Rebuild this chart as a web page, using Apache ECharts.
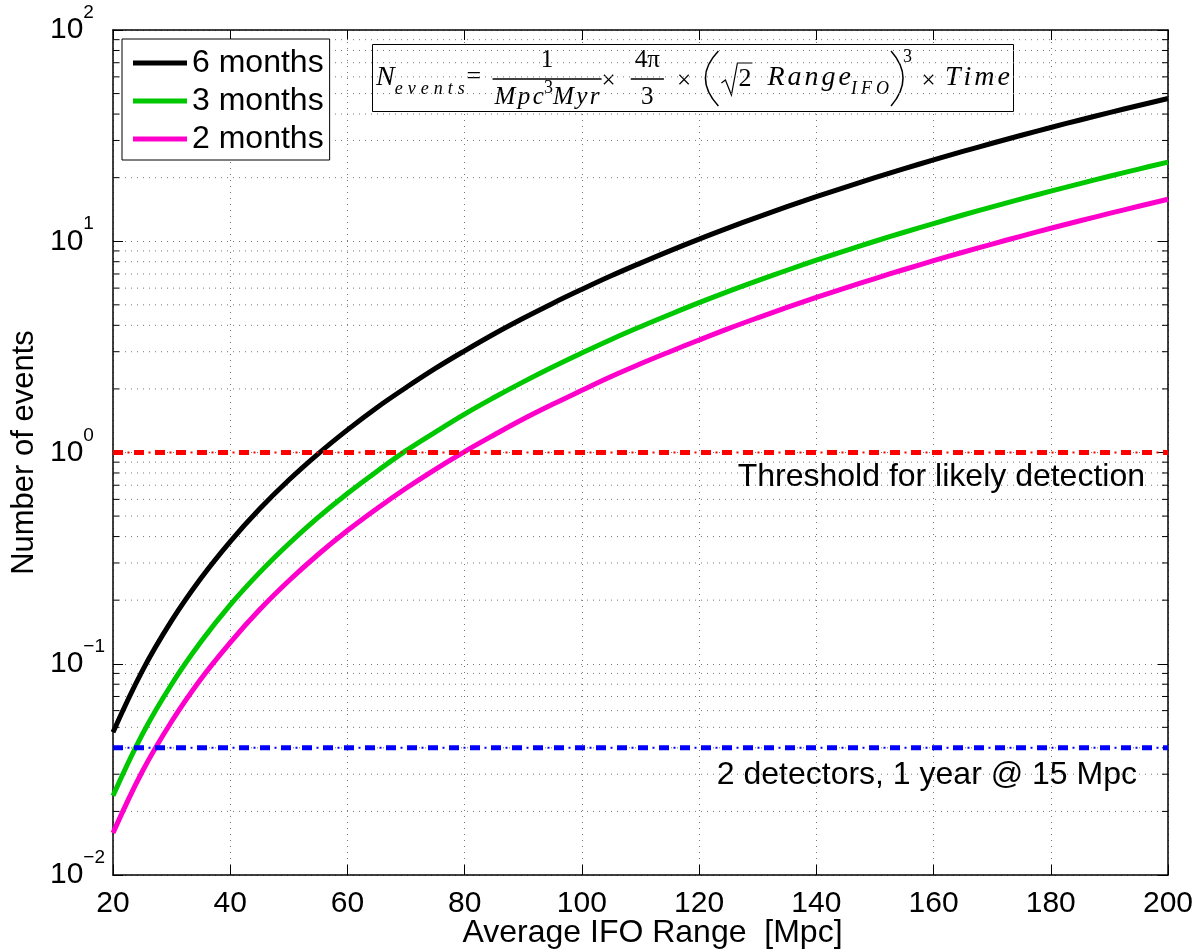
<!DOCTYPE html>
<html>
<head>
<meta charset="utf-8">
<script src="https://cdn.jsdelivr.net/npm/echarts@6/dist/echarts.min.js"></script>
<style>
  html, body { margin: 0; padding: 0; background: #fff; }
  #chart { width: 1204px; height: 951px; }
</style>
</head>
<body>
<div id="chart"></div>
<script>
// Average interferometer range (Mpc)
const rangeMpc = [20, 25, 30, 35, 40, 45, 50, 55, 60, 65, 70, 75, 80, 85, 90, 95, 100,
  105, 110, 115, 120, 125, 130, 135, 140, 145, 150, 155, 160, 165, 170, 175, 180, 185, 190, 195, 200];

// Expected number of events for each observation time
const events6Months = [0.0474, 0.0926, 0.160, 0.254, 0.379, 0.540, 0.741, 0.986, 1.28, 1.63, 2.03,
  2.50, 3.03, 3.64, 4.32, 5.08, 5.92, 6.86, 7.88, 9.01, 10.24, 11.57, 13.02, 14.58, 16.26,
  18.06, 19.99, 22.06, 24.26, 26.61, 29.10, 31.75, 34.55, 37.51, 40.63, 43.92, 47.39];
const events3Months = [0.0237, 0.0463, 0.0800, 0.127, 0.190, 0.270, 0.370, 0.493, 0.640, 0.813, 1.02,
  1.25, 1.52, 1.82, 2.16, 2.54, 2.96, 3.43, 3.94, 4.50, 5.12, 5.79, 6.51, 7.29, 8.13,
  9.03, 10.00, 11.03, 12.13, 13.31, 14.55, 15.87, 17.27, 18.75, 20.32, 21.96, 23.70];
const events2Months = [0.0158, 0.0309, 0.0533, 0.0847, 0.126, 0.180, 0.247, 0.329, 0.427, 0.542, 0.677,
  0.833, 1.01, 1.21, 1.44, 1.69, 1.97, 2.29, 2.63, 3.00, 3.41, 3.86, 4.34, 4.86, 5.42,
  6.02, 6.66, 7.35, 8.09, 8.87, 9.70, 10.58, 11.52, 12.50, 13.54, 14.64, 15.80];

const seriesNames = ['6 months', '3 months', '2 months'];
const seriesColors = ['#000000', '#00c800', '#ff00cc'];

// Horizontal reference levels
const thresholdLevels = [1, 0.04];
const thresholdColors = ['#ff0000', '#0000ff'];
const thresholdTexts = ['Threshold for likely detection', '2 detectors, 1 year @ 15 Mpc'];

// Axis ranges and ticks
const xRange = [20, 200];
const xTickStep = 20;
const yRange = [0.01, 100];
const minorGridValues = [
  0.02, 0.03, 0.04, 0.05, 0.06, 0.07, 0.08, 0.09,
  0.2, 0.3, 0.4, 0.5, 0.6, 0.7, 0.8, 0.9,
  2, 3, 4, 5, 6, 7, 8, 9,
  20, 30, 40, 50, 60, 70, 80, 90
];

const SANS = '"Liberation Sans", Arial, Helvetica, sans-serif';
const SERIF = '"Liberation Serif", "Times New Roman", serif';

const chart = echarts.init(document.getElementById('chart'), null, { renderer: 'canvas' });

function pairs(values) {
  return rangeMpc.map((x, i) => [x, values[i]]);
}

function expLabel(value) {
  const e = Math.round(Math.log10(value));
  const s = e < 0 ? '\u2212' + (-e) : String(e);
  return '{b|10}{e|' + s + '}';
}

const dotted = [1, 5];

const curveSeries = seriesNames.map((name, i) => ({
  name,
  type: 'line',
  data: pairs([events6Months, events3Months, events2Months][i]),
  showSymbol: false,
  smooth: 0.4,
  lineStyle: { width: 5, color: seriesColors[i] },
  itemStyle: { color: seriesColors[i] },
  z: 3,
  silent: true
}));

const thresholdSeries = [];
thresholdLevels.forEach((lvl, i) => {
  const d = [[xRange[0], lvl], [xRange[1], lvl]];
  thresholdSeries.push({
    name: 'level' + i,
    type: 'line', data: d, showSymbol: false, silent: true, z: 4,
    lineStyle: { width: 5, color: thresholdColors[i], type: [10, 11], cap: 'butt' }
  });
  thresholdSeries.push({
    name: 'leveldot' + i,
    type: 'line', data: d, showSymbol: false, silent: true, z: 4,
    lineStyle: { width: 2, color: thresholdColors[i], type: [2, 19], dashOffset: 6.5, cap: 'butt' }
  });
});

// dotted minor grid lines with inward ticks on both vertical axes
const minorGrid = {
  type: 'custom',
  silent: true,
  z: 1,
  data: minorGridValues.map(v => [xRange[0], v]),
  renderItem: function (params, api) {
    const v = api.value(1);
    const a = api.coord([xRange[0], v]);
    const b = api.coord([xRange[1], v]);
    return {
      type: 'group',
      children: [
        { type: 'line', shape: { x1: a[0], y1: a[1], x2: b[0], y2: b[1] },
          style: { stroke: '#777', lineWidth: 1, lineDash: dotted } },
        { type: 'line', shape: { x1: a[0], y1: a[1], x2: a[0] + 6, y2: a[1] },
          style: { stroke: '#000', lineWidth: 1 } },
        { type: 'line', shape: { x1: b[0] - 6, y1: b[1], x2: b[0], y2: b[1] },
          style: { stroke: '#000', lineWidth: 1 } }
      ]
    };
  }
};

const axisLineStyle = { show: true, lineStyle: { color: '#000', width: 1.5 } };

chart.setOption({
  animation: false,
  backgroundColor: '#fff',
  grid: { left: 113, right: 36, top: 30, bottom: 76, containLabel: false, outerBoundsMode: 'none' },
  legend: {
    data: seriesNames,
    left: 122, top: 39,
    orient: 'vertical',
    icon: 'rect',
    itemWidth: 54, itemHeight: 5,
    itemGap: 6,
    padding: [8, 6, 5, 11],
    backgroundColor: '#fff',
    borderColor: '#000', borderWidth: 1,
    selectedMode: false,
    z: 20,
    textStyle: { fontSize: 32, fontFamily: SANS, color: '#000' }
  },
  xAxis: [{
    type: 'value', min: xRange[0], max: xRange[1], interval: xTickStep,
    name: 'Average IFO Range  [Mpc]',
    nameLocation: 'middle', nameGap: 42, nameMoveOverlap: false,
    nameTextStyle: { fontSize: 32, fontFamily: SANS, color: '#000', padding: [0, 0, 0, 24] },
    axisLine: axisLineStyle,
    axisTick: { inside: true, length: 10, lineStyle: { color: '#000' } },
    axisLabel: { fontSize: 30, fontFamily: SANS, color: '#000', margin: 14 },
    splitLine: { show: true, lineStyle: { color: '#777', width: 1, type: dotted } }
  }, {
    type: 'value', position: 'top', min: xRange[0], max: xRange[1], interval: xTickStep,
    axisLine: axisLineStyle,
    axisTick: { inside: true, length: 10, lineStyle: { color: '#000' } },
    axisLabel: { show: false },
    splitLine: { show: false }
  }],
  yAxis: [{
    type: 'log', logBase: 10, min: yRange[0], max: yRange[1],
    name: 'Number of events',
    nameLocation: 'middle', nameGap: 73, nameMoveOverlap: false,
    nameTextStyle: { fontSize: 31, fontFamily: SANS, color: '#000' },
    axisLine: axisLineStyle,
    axisTick: { inside: true, length: 10, lineStyle: { color: '#000' } },
    axisLabel: {
      align: 'left', margin: 63,
      formatter: expLabel,
      rich: {
        b: { fontSize: 30, fontFamily: SANS, color: '#000', lineHeight: 30 },
        e: { fontSize: 19, fontFamily: SANS, color: '#000', lineHeight: 19, padding: [0, 0, 34, 0] }
      }
    },
    splitLine: { show: true, lineStyle: { color: '#777', width: 1, type: dotted } }
  }, {
    type: 'log', logBase: 10, min: yRange[0], max: yRange[1], position: 'right',
    axisLine: axisLineStyle,
    axisTick: { inside: true, length: 10, lineStyle: { color: '#000' } },
    axisLabel: { show: false },
    splitLine: { show: false }
  }],
  series: [minorGrid].concat(curveSeries, thresholdSeries)
});

// ---- formula box -------------------------------------------------------
const measureCtx = document.createElement('canvas').getContext('2d');

function textWidth(s, font, sp) {
  measureCtx.font = font;
  const chars = Array.from(s);
  return chars.reduce((a, c) => a + measureCtx.measureText(c).width, 0) + (sp || 0) * (chars.length - 1);
}
// draws the characters of s one by one from x with extra letter spacing sp
function glyphs(s, x, mid, font, sp) {
  measureCtx.font = font;
  return Array.from(s).map(c => {
    const el = { type: 'text', style: { text: c, x: x, y: mid, font: font, fill: '#000', align: 'left', verticalAlign: 'middle' } };
    x += measureCtx.measureText(c).width + (sp || 0);
    return el;
  });
}
function rule(x1, y1, x2, y2, w) {
  return { type: 'line', shape: { x1, y1, x2, y2 }, style: { stroke: '#000', lineWidth: w || 1.4 } };
}

const MAIN = 78, SUB = 89, SUP = 57, NUM = 60, DEN = 97, BAR = 79;
const it28 = 'italic 28px ' + SERIF;
const it25 = 'italic 25px ' + SERIF;
const it18 = 'italic 18px ' + SERIF;
const up26 = '26px ' + SERIF;
const up25 = '25px ' + SERIF;
const up18 = '18px ' + SERIF;

// inline pieces: text runs, flexible gaps, fractions, parentheses, radical
function T(s, font, mid, sp) { return { kind: 'text', s, font, mid, sp: sp || 0 }; }
function G(g) { return { kind: 'gap', g }; }
const formulaItems = [
  T('N', it28, MAIN), T('events', it18, SUB, 5), G(1), T('=', up26, MAIN - 1), G(6),
  { kind: 'frac', num: [T('1', up25, NUM)], den: [T('Mpc', it25, DEN, 2.5), T('3', up18, DEN - 9), T('Myr', it25, DEN, 2.5)], pad: 2 },
  T('\u00d7', up25, MAIN + 3), G(8),
  { kind: 'frac', num: [T('4\u03c0', up25, NUM)], den: [T('3', up25, DEN)], pad: 4 },
  G(7), T('\u00d7', up25, MAIN + 3), G(7),
  { kind: 'paren', side: 'l', w: 16 },
  { kind: 'sqrt', s: '2', font: up26 },
  G(8),
  T('Range', it28, MAIN, 3), T('IFO', it18, SUB, 4),
  { kind: 'paren', side: 'r', w: 14 },
  T('3', up18, SUP),
  G(5), T('\u00d7', up25, MAIN + 3), G(5),
  T('Time', it28, MAIN, 3)
];

function runWidth(list) { return list.reduce((a, t) => a + textWidth(t.s, t.font, t.sp), 0); }
function itemWidth(it) {
  if (it.kind === 'text') return textWidth(it.s, it.font, it.sp);
  if (it.kind === 'frac') return Math.max(runWidth(it.num), runWidth(it.den)) + 2 * it.pad;
  if (it.kind === 'paren') return it.w;
  if (it.kind === 'sqrt') return 17 + textWidth(it.s, it.font, 0) + 2;
  return 0;
}
function drawRun(list, x, out) {
  list.forEach(t => { out.push(...glyphs(t.s, x, t.mid, t.font, t.sp)); x += textWidth(t.s, t.font, t.sp); });
}

function layoutFormula(items, x0, x1) {
  const fixed = items.reduce((a, it) => a + itemWidth(it), 0);
  const gapSum = items.reduce((a, it) => a + (it.kind === 'gap' ? it.g : 0), 0);
  const k = Math.max(0.3, (x1 - x0 - fixed) / gapSum);
  const out = [];
  let x = x0;
  items.forEach(it => {
    if (it.kind === 'gap') { x += it.g * k; return; }
    const w = itemWidth(it);
    if (it.kind === 'text') {
      out.push(...glyphs(it.s, x, it.mid, it.font, it.sp));
    } else if (it.kind === 'frac') {
      out.push(rule(x, BAR, x + w, BAR));
      drawRun(it.num, x + (w - runWidth(it.num)) / 2, out);
      drawRun(it.den, x + (w - runWidth(it.den)) / 2, out);
    } else if (it.kind === 'paren') {
      const outer = it.side === 'l' ? x + w - 2 : x + 2;
      const inner = it.side === 'l' ? x - 12 : x + w + 12;
      out.push({ type: 'bezierCurve', shape: { x1: outer, y1: 51, cpx1: inner, cpy1: 78, x2: outer, y2: 106 },
        style: { stroke: '#000', lineWidth: 1.5, fill: null } });
    } else if (it.kind === 'sqrt') {
      const top = 63;
      out.push({ type: 'polyline', shape: { points: [[x + 1, 83], [x + 5, 80], [x + 11, 95], [x + 17, top], [x + w, top]] },
        style: { stroke: '#000', lineWidth: 1.2, fill: null } });
      out.push(...glyphs(it.s, x + 18, MAIN + 1, it.font, 0));
    }
    x += w;
  });
  return out;
}

const formula = [{ type: 'rect', shape: { x: 372.5, y: 44.5, width: 641, height: 67 },
  style: { fill: '#fff', stroke: '#000', lineWidth: 1 } }].concat(layoutFormula(formulaItems, 376, 1010));

// ---- level annotations, placed just under each reference line -----------
const annotations = thresholdLevels.map((lvl, i) => {
  const y = chart.convertToPixel({ yAxisIndex: 0 }, lvl);
  const right = chart.convertToPixel({ xAxisIndex: 0 }, xRange[1]) - [23, 31][i];
  return {
    type: 'text', z: 30,
    style: { text: thresholdTexts[i], x: right, y: y + [25, 27][i], align: 'right', verticalAlign: 'middle',
      font: '32px ' + SANS, fill: '#000' }
  };
});

chart.setOption({
  graphic: [{ type: 'group', z: 30, children: formula }].concat(annotations)
});
</script>
</body>
</html>
